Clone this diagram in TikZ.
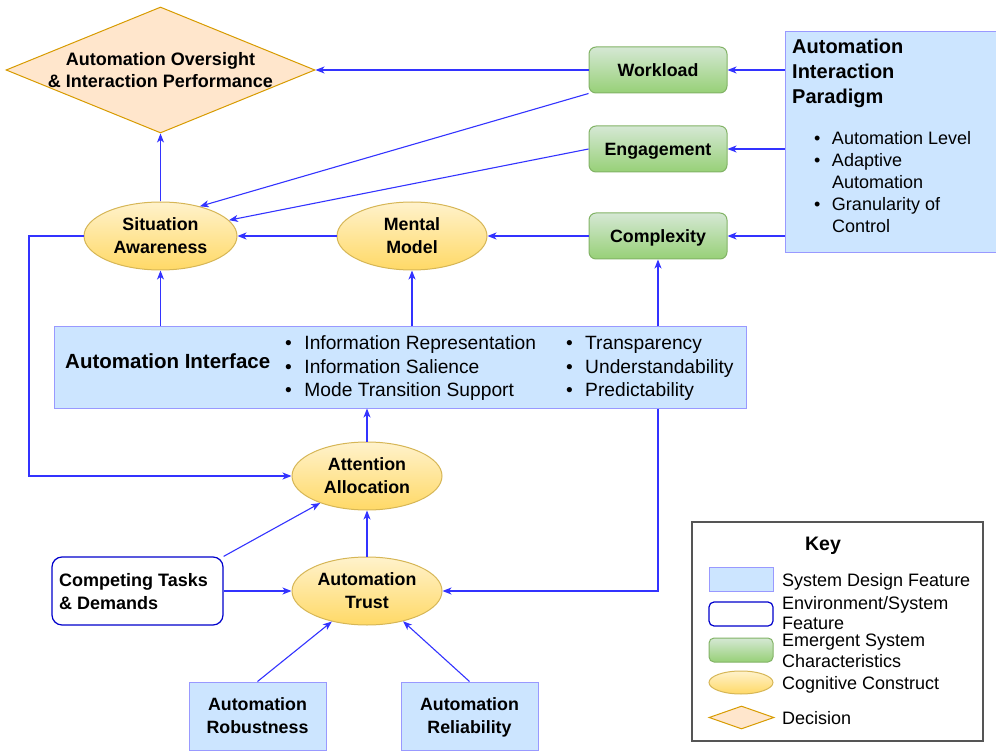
\documentclass[tikz,border=0pt]{standalone}
\usepackage{fontspec}
\setmainfont{Liberation Sans}
\usetikzlibrary{shapes.geometric,arrows.meta}
\definecolor{arrc}{HTML}{3333FF}
\definecolor{bluefill}{HTML}{CCE5FF}
\definecolor{blueline}{HTML}{9999FF}
\definecolor{greenline}{HTML}{82B366}
\definecolor{greentop}{HTML}{D5E8D4}
\definecolor{greenbot}{HTML}{97D077}
\definecolor{yelline}{HTML}{D6B656}
\definecolor{yeltop}{HTML}{FFF2CC}
\definecolor{yelbot}{HTML}{FFD966}
\definecolor{decfill}{HTML}{FFE6CC}
\definecolor{decline}{HTML}{D79B00}
\definecolor{envline}{HTML}{0000CC}
\definecolor{keyline}{HTML}{555555}
\newcommand{\fsz}[2]{\fontsize{#1}{#2}\selectfont}
\begin{document}
\begin{tikzpicture}[x=1pt,y=-1pt,
  arr/.style={draw=arrc, line width=1.1pt, -{Stealth[length=9pt,width=7pt,inset=2.5pt]}},
  lbl/.style={inner sep=0pt, text depth=0pt, font=\bfseries\fsz{17.8}{23}, align=center},
  sysbox/.style={lbl, rectangle, fill=bluefill, draw=blueline, line width=1pt},
  envbox/.style={lbl, rectangle, rounded corners=10pt, fill=white, draw=envline, line width=1.2pt},
  emerg/.style={lbl, rectangle, rounded corners=7pt, draw=greenline, line width=1pt,
     top color=greentop, bottom color=greenbot, minimum width=138pt, minimum height=46pt},
  cog/.style={lbl, ellipse, draw=yelline, line width=1pt, top color=yeltop, bottom color=yelbot,
     minimum width=150pt, minimum height=68pt},
  decision/.style={lbl, diamond, draw=decline, fill=decfill, line width=1pt},
  plain/.style={inner sep=0pt, anchor=base west}
]
\useasboundingbox (0,0) rectangle (996,751);

% decision
\node[decision, minimum width=309pt, minimum height=126pt] (dec) at (160.5,70) {};
\node[lbl, font=\bfseries\fsz{18}{22}] (dectx) at (160.5,70) {Automation Oversight\\\& Interaction Performance};

% emergent characteristics
\node[emerg] (wl) at (658,70) {Workload};
\node[emerg] (eng) at (658,149) {Engagement};
\node[emerg] (cx) at (658,236) {Complexity};

% automation interaction paradigm
\node[sysbox, minimum width=211pt, minimum height=221pt] (aip) at (890.5,142.5) {};
\node[plain, font=\bfseries\fsz{20}{25}] (aipt) at (792,53.2)
  {\begin{tabular}[t]{@{}l@{}}Automation\\Interaction\\Paradigm\end{tabular}};
\node[plain, font=\fsz{18}{22}] (aipb) at (814,144.5)
  {\begin{tabular}[t]{@{}l@{\hspace{11.5pt}}l@{}}•&Automation Level\\•&Adaptive\\&Automation\\•&Granularity of\\&Control\end{tabular}};

% cognitive constructs
\node[cog, minimum width=153pt] (sa) at (160.5,236) {Situation\\Awareness};
\node[cog] (mm) at (412,236) {Mental\\Model};
\node[cog] (att) at (367,476) {Attention\\Allocation};
\node[cog] (trust) at (367,591) {Automation\\Trust};

% automation interface
\node[sysbox, minimum width=692pt, minimum height=81pt] (ai) at (400,367.5) {};
\node[lbl, anchor=west, font=\bfseries\fsz{20.5}{23}] (aitt) at (65,361) {Automation Interface};
\node[plain, font=\fsz{19.2}{23.3}] (aib1) at (285,349.8)
  {\begin{tabular}[t]{@{}l@{\hspace{12.5pt}}l@{}}•&Information Representation\\•&Information Salience\\•&Mode Transition Support\end{tabular}};
\node[plain, font=\fsz{19.2}{23.3}] (aib2) at (565.8,349.8)
  {\begin{tabular}[t]{@{}l@{\hspace{12.5pt}}l@{}}•&Transparency\\•&Understandability\\•&Predictability\end{tabular}};

% environment
\node[envbox, minimum width=171pt, minimum height=68pt] (ct) at (137.5,591) {};
\node[plain, font=\bfseries\fsz{18}{23}] (ctt) at (59,586.4)
  {\begin{tabular}[t]{@{}l@{}}Competing Tasks\\\& Demands\end{tabular}};

% design features
\node[sysbox, minimum width=137pt, minimum height=68pt] (rob) at (257.5,716) {Automation\\Robustness};
\node[sysbox, minimum width=137pt, minimum height=68pt] (rel) at (469.5,716) {Automation\\Reliability};

% connectors
\draw[arr] (wl.west) -- (dec.east);
\draw[arr] (wl.south west) -- (sa.37);
\draw[arr] (eng.west) -- (sa.13);
\draw[arr] (mm.west) -- (sa.east);
\draw[arr] (cx.west) -- (mm.east);
\draw[arr] (aip.west |- wl.east) -- (wl.east);
\draw[arr] (aip.west |- eng.east) -- (eng.east);
\draw[arr] (aip.west |- cx.east) -- (cx.east);
\draw[arr] (sa.north) -- (dec.south);
\draw[arr] (ai.north -| sa.south) -- (sa.south);
\draw[arr] (ai.north -| mm.south) -- (mm.south);
\draw[arr] (ai.north -| cx.south) -- (cx.south);
\draw[arr] (att.north) -- (att.north |- ai.south);
\coordinate (lp) at (29,236);
\draw[arr] (sa.west) -- (lp) |- (att.west);
\draw[arr] (ai.south -| cx.south) |- (trust.east);
\draw[arr] (trust.north) -- (att.south);
\draw[arr] (ct.east) -- (trust.west);
\draw[arr] (ct.north east) -- (att.210);
\draw[arr] (rob.north) -- (trust.221);
\draw[arr] (rel.north) -- (trust.320);

% key
\node[draw=keyline, line width=1.5pt, minimum width=291pt, minimum height=219pt, inner sep=0pt] (key) at (837.5,631.5) {};
\node[lbl, font=\bfseries\fsz{19.5}{23}] (keyt) at (823,544) {Key};
\node[sysbox, minimum width=64pt, minimum height=24pt] (k1) at (741,579) {};
\node[envbox, rounded corners=5pt, minimum width=64pt, minimum height=24pt] (k2) at (741,614) {};
\node[emerg, rounded corners=5pt, minimum width=64pt, minimum height=24pt] (k3) at (741,650) {};
\node[cog, minimum width=64pt, minimum height=23pt] (k4) at (741,682.5) {};
\node[decision, minimum width=65pt, minimum height=23pt] (k5) at (741.5,717.5) {};
\node[plain, font=\fsz{18}{21}] (t1) at (782,586.4) {System Design Feature};
\node[plain, font=\fsz{18}{20}] (t2) at (782,609.4) {\begin{tabular}[t]{@{}l@{}}Environment/System\\Feature\end{tabular}};
\node[plain, font=\fsz{18}{21}] (t3) at (782,646.4) {\begin{tabular}[t]{@{}l@{}}Emergent System\\Characteristics\end{tabular}};
\node[plain, font=\fsz{18}{21}] (t4) at (782,689.4) {Cognitive Construct};
\node[plain, font=\fsz{18}{21}] (t5) at (782,724.4) {Decision};
\end{tikzpicture}
\end{document}
